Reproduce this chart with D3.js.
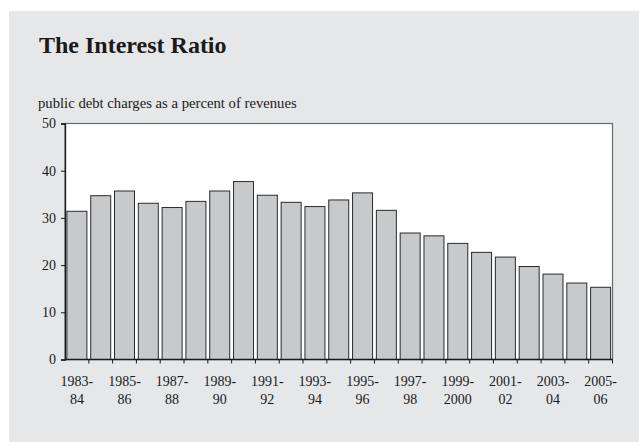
<!DOCTYPE html>
<html>
<head>
<meta charset="utf-8">
<script src="https://cdn.jsdelivr.net/npm/d3@7"></script>
<style>
  html, body { margin: 0; padding: 0; background: #ffffff; }
  svg { display: block; }
</style>
</head>
<body>
<svg id="chart" width="639" height="442"></svg>
<script>
// Fiscal years, shown as two-line labels on every other bar
const yearsTop    = ["1983-","1984-","1985-","1986-","1987-","1988-","1989-","1990-","1991-","1992-","1993-","1994-","1995-","1996-","1997-","1998-","1999-","2000-","2001-","2002-","2003-","2004-","2005-"];
const yearsBottom = ["84","85","86","87","88","89","90","91","92","93","94","95","96","97","98","99","2000","01","02","03","04","05","06"];
// Public debt charges as a percent of revenues
const interestRatio = [31.4, 34.7, 35.7, 33.1, 32.2, 33.5, 35.7, 37.7, 34.8, 33.3, 32.4, 33.8, 35.3, 31.6, 26.8, 26.2, 24.6, 22.7, 21.7, 19.7, 18.1, 16.2, 15.3];
const yTicks = [0, 10, 20, 30, 40, 50];

const svg = d3.select("#chart");
const W = 639, H = 442;
const font = "'Liberation Serif', 'Times New Roman', serif";

// Panel background
svg.append("rect").attr("x", 9).attr("y", 11).attr("width", W - 9).attr("height", H - 11)
  .attr("fill", "#e6e7e9");

svg.append("text").attr("x", 39).attr("y", 53)
  .attr("font-family", font)
  .attr("font-weight", "bold").attr("font-size", 24).attr("fill", "#1a1a1a")
  .text("The Interest Ratio");

svg.append("text").attr("x", 38).attr("y", 108)
  .attr("font-family", font)
  .attr("font-size", 14.7).attr("fill", "#1a1a1a")
  .text("public debt charges as a percent of revenues");

const m = { left: 65, top: 123.5, right: 612.5, bottom: 359.5 };
const keys = d3.range(interestRatio.length);

const x = d3.scaleBand().domain(keys).range([m.left, m.right]).paddingInner(0.16).paddingOuter(0.08);
const y = d3.scaleLinear().domain([0, 50]).range([m.bottom, m.top]);

// Plot area
svg.append("rect").attr("x", m.left).attr("y", m.top)
  .attr("width", m.right - m.left).attr("height", m.bottom - m.top)
  .attr("fill", "#ffffff").attr("stroke", "#6b6b6b").attr("stroke-width", 1.2);

// Bars
svg.append("g").selectAll("rect").data(interestRatio).join("rect")
  .attr("x", (d, i) => x(i))
  .attr("y", d => y(d))
  .attr("width", x.bandwidth())
  .attr("height", d => y(0) - y(d))
  .attr("fill", "#c8c9cb")
  .attr("stroke", "#2b2b2b").attr("stroke-width", 1);

// Y axis
const yAxis = svg.append("g").attr("transform", `translate(${m.left},0)`)
  .call(d3.axisLeft(y).tickValues(yTicks).tickSize(4).tickPadding(5).tickFormat(d3.format("d")));
yAxis.select(".domain").attr("stroke", "#1a1a1a").attr("stroke-width", 1.3);
yAxis.selectAll(".tick line").attr("stroke", "#1a1a1a");
yAxis.selectAll("text").attr("font-family", font).attr("font-size", 14).attr("fill", "#1a1a1a");

// X axis: ticks at band boundaries, labels centred on alternate bars
const bounds = d3.range(interestRatio.length + 1).map(i => m.left + i * (m.right - m.left) / interestRatio.length);
svg.append("line").attr("x1", m.left).attr("x2", m.right).attr("y1", m.bottom).attr("y2", m.bottom)
  .attr("stroke", "#1a1a1a").attr("stroke-width", 1.3);
svg.append("g").selectAll("line").data(bounds.slice(1)).join("line")
  .attr("x1", d => d).attr("x2", d => d).attr("y1", m.bottom).attr("y2", m.bottom + 4)
  .attr("stroke", "#1a1a1a");

const labelled = keys.filter(i => i % 2 === 0);
const lab = svg.append("g").selectAll("text").data(labelled).join("text")
  .attr("font-family", font).attr("font-size", 14).attr("fill", "#1a1a1a")
  .attr("text-anchor", "middle");
lab.append("tspan").attr("x", i => x(i) + x.bandwidth() / 2).attr("y", 386).text(i => yearsTop[i]);
lab.append("tspan").attr("x", i => x(i) + x.bandwidth() / 2).attr("y", 404).text(i => yearsBottom[i]);
</script>
</body>
</html>
